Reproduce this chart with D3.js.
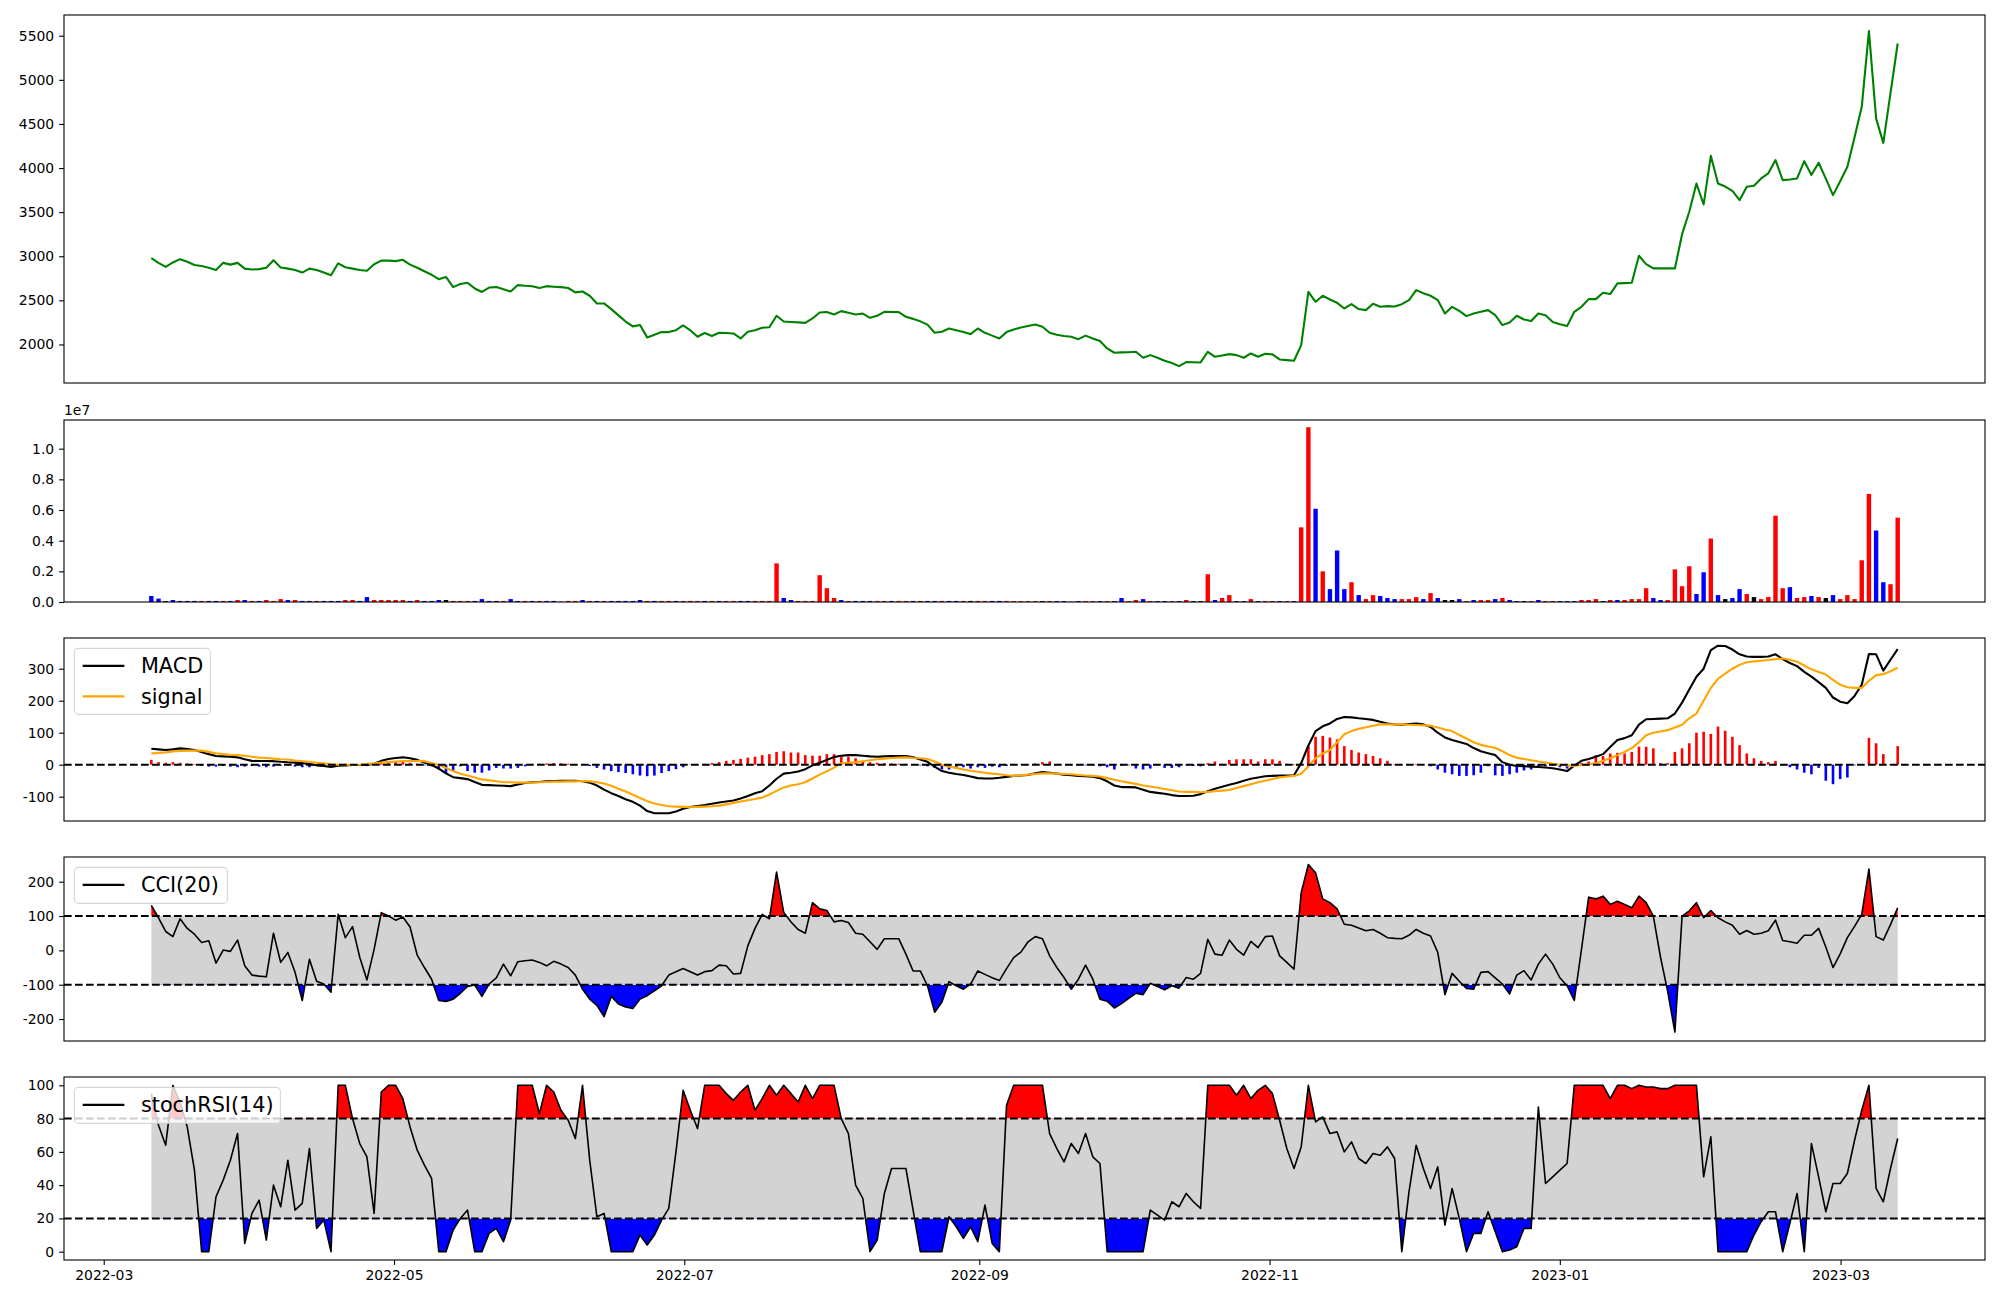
<!DOCTYPE html>
<html><head><meta charset="utf-8">
<script src="https://cdn.jsdelivr.net/npm/d3@7"></script>
<style>body{margin:0;background:#fff}svg{display:block}text{font-family:"DejaVu Sans",sans-serif}</style>
</head><body><svg id="c" width="2000" height="1300"></svg>
<script>
// ---- data (one value per trading session, 2022-03-11 .. 2023-03-13) ----
const firstSession = "2022-03-11", lastSession = "2023-03-13";
const dateTicks = ["2022-03","2022-05","2022-07","2022-09","2022-11","2023-01","2023-03"];
const price = [
2979,2925,2880,2930,2967,2937,2900,2890,2869,2845,
2925,2905,2925,2860,2850,2854,2870,2955,2872,2860,
2845,2815,2860,2845,2815,2785,2920,2875,2860,2845,
2835,2910,2950,2950,2945,2960,2905,2870,2830,2790,
2740,2765,2650,2685,2700,2635,2595,2645,2650,2625,
2600,2673,2665,2660,2640,2661,2655,2650,2640,2590,
2600,2552,2465,2465,2400,2330,2260,2205,2220,2080,
2110,2140,2140,2162,2215,2160,2087,2130,2095,2132,
2130,2125,2068,2144,2160,2190,2195,2325,2260,2255,
2250,2245,2295,2363,2368,2340,2378,2360,2340,2350,
2302,2325,2370,2368,2367,2314,2290,2262,2225,2132,
2144,2181,2160,2140,2117,2181,2132,2100,2068,2140,
2170,2193,2210,2227,2200,2132,2110,2095,2087,2060,
2100,2068,2038,1955,1906,1910,1912,1917,1849,1879,
1849,1815,1790,1754,1800,1798,1796,1917,1860,1875,
1890,1879,1849,1898,1860,1894,1887,1830,1822,1815,
1992,2597,2484,2552,2510,2472,2408,2457,2401,2389,
2461,2427,2435,2430,2457,2503,2616,2580,2552,2503,
2351,2427,2380,2321,2351,2370,2389,2333,2219,2249,
2325,2283,2265,2351,2330,2255,2230,2208,2370,2427,
2514,2514,2586,2571,2692,2695,2699,3005,2911,2862,
2862,2862,2862,3250,3504,3825,3587,4139,3825,3790,
3740,3636,3787,3800,3882,3940,4090,3863,3870,3882,
4078,3920,4060,3880,3693,3850,4014,4350,4694,5552,
4560,4285,4850,5412];
const volume = [
390000,220000,60000,130000,70000,70000,70000,70000,70000,70000,
70000,70000,130000,130000,70000,70000,130000,70000,190000,130000,
130000,70000,70000,70000,70000,70000,70000,130000,130000,70000,
320000,130000,130000,130000,130000,130000,70000,130000,70000,70000,
130000,130000,70000,70000,70000,70000,190000,70000,70000,70000,
190000,70000,70000,70000,70000,70000,70000,20000,70000,70000,
130000,70000,70000,70000,70000,70000,70000,70000,130000,70000,
70000,70000,70000,70000,70000,70000,70000,70000,70000,70000,
70000,70000,70000,70000,70000,70000,70000,2520000,260000,130000,
70000,70000,70000,1750000,900000,260000,130000,70000,70000,70000,
70000,70000,70000,70000,70000,70000,70000,70000,70000,70000,
70000,70000,70000,70000,70000,70000,70000,70000,70000,70000,
60000,60000,60000,60000,60000,60000,60000,60000,20000,60000,
60000,60000,60000,60000,60000,260000,60000,130000,190000,60000,
60000,60000,60000,60000,130000,60000,60000,1810000,130000,260000,
450000,60000,60000,190000,60000,60000,60000,60000,60000,60000,
4870000,11400000,6080000,2000000,840000,3360000,840000,1290000,450000,190000,
450000,390000,260000,190000,190000,190000,320000,190000,580000,260000,
130000,130000,190000,60000,130000,130000,130000,190000,260000,130000,
60000,60000,60000,130000,60000,60000,60000,60000,60000,130000,
130000,190000,60000,130000,130000,130000,190000,190000,900000,260000,
130000,130000,2130000,1030000,2330000,520000,1940000,4140000,450000,190000,
260000,840000,520000,320000,190000,320000,5630000,900000,970000,260000,
320000,390000,320000,260000,450000,190000,450000,190000,2720000,7050000,
4660000,1290000,1160000,5500000];
// r = up session, b = down session, k = unchanged
const volumeDir =
"bbkbbbbrbb"+"rbrbrbrrrb"+"rbbrbbbrrb"+"brrrrrbrbb"+"bkrrrbbbkr"+
"bbrbrbbbrr"+"brbrbbbbbr"+"brrbrrrbrb"+"rrbbrrrrbb"+"rrrrrrbrbb"+
"brrbrrbrbb"+"rbbrkrrbbr"+"rrrrkrbbbb"+"rrbrbbrrbr"+"bbrbrkkrbr"+
"rbbrbrrbrb"+"rrbrbbbrbr"+"rbbbrrrbrb"+"kkbrbrrbrb"+"bkrbrrbbbr"+
"rrkrbrrrrb"+"brrrrbbrbk"+"bbrkrrrrbr"+"rbrkbrrrrr"+"bbrr";
const macd = [
50,48,46,48,51,49,46,40,33,27,
26,25,23,17,12,11.5,11.5,11,9,7.5,
6.5,5,2,-2,-4,-7,-3,-2,-1,-1,
-1,3,12,18,21,23,20,15,7,-1,
-12,-27,-39,-42,-45,-54,-63,-64,-65,-66,
-67,-62,-57,-55,-54,-52,-51,-50,-50,-50,
-52,-56,-65,-78,-89,-98,-108,-116,-128,-145,
-152,-152,-152,-146,-138,-132,-129,-126,-122,-118,
-115,-112,-106,-98,-89,-83,-65,-44,-28,-25,
-21,-14,-2,6,15,24,28,30,30,28,
26,25,26,27,27,27,23,16,9,-6,
-20,-25,-29,-32,-37,-42,-43,-43,-41,-38,
-35,-34,-32,-27,-23,-25,-28,-31,-33,-35,
-36,-37.5,-42,-52,-65,-70,-70,-71,-78,-85,
-88,-91,-95,-98,-98,-97,-92,-83,-75,-69,
-63,-57,-50,-44,-40,-36,-35,-34,-34,-33,
5,60,105,120,129,143,149,148,145,143,
140,134,129,126,125,127,129,126,118,100,
85,77,71,65,52,42,36,30,8,0,
-4,-5,-6,-7,-9,-11,-15,-20,-3,12,
18,25,33,55,77,83,92,125,142,143,
144,145,160,194,235,275,300,358,372,371,
360,345,338,337,337,338,345,330,318,308,
290,275,258,240,210,197,192,215,250,346,
345,294,328,361];
const signal = [
35,37,38.5,41,43,44,44,44,40,36,
33,31,30,28,25,22,21,19,17,16,
13,11,9,6,4,1,0,0,-1,0,
2,4,6,8,10,11,11.5,11.5,11,5,
-1,-10,-20,-28,-34,-40,-46,-49,-52,-55,
-55,-56,-56,-56,-55,-54,-53,-53,-52,-52,
-51,-52,-55,-59,-66,-75,-84,-94,-104,-114,
-121,-126,-130,-131,-132,-133,-132,-131,-130,-128,
-124,-120,-115,-111,-107,-103,-93,-82,-71,-65,
-61,-55,-43,-31,-21,-9,4,6,8,11,
14,17,19,21,22,23,21,20,18,10,
0,-6,-10,-15,-19,-22,-25,-28,-30,-33,
-35,-33,-31,-29,-27,-27,-28,-29,-30,-32,
-34,-35,-37,-42,-47,-52,-56,-60,-65,-68,
-72,-76,-80,-84,-85,-85,-86,-85,-83,-81,
-79,-73,-67,-61,-55,-50,-45,-40,-37,-35,
-28,-5,20,35,46,70,95,105,112,117,
122,126,126,126,126,125,124,123,122,116,
110,105,93,82,70,62,57,53,42,30,
22,18,14,10,7,3,0,-2,-4,-1,
1,4,12,20,30,40,52,70,92,100,
104,108,116,125,145,160,200,240,268,285,
300,312,320,323,325,327,330,332,328,322,
310,298,290,282,265,250,242,240,240,262,
280,283,292,303];
const histogram = [
15,8,6,8,6,4,2,-4,-6,-6,
-4,-6,-8,-6,-4,-6,-8,-6,-3,-2,
-6,-8,-8,-3,-2,-2,-1,0,1,-1,
-2,2,6,8,10,10,6,3,-2,-5,
-15,-27,-20,-5,-20,-25,-25,-18,-10,-12,
-12,-10,-5,1,3,4,5,4,3,2,
-1,-4,-10,-15,-20,-23,-26,-30,-34,-36,
-34,-26,-20,-14,-8,1,2,3,5,8,
12,15,18,22,25,30,33,40,42,38,
38,30,28,28,33,33,30,25,20,12,
8,6,5,4,3,2,1,-2,-5,-10,
-15,-15,-10,-8,-12,-8,-10,-6,-8,-4,
0,-1,1,4,8,10,2,0,-2,-2,
-2,-2,-5,-8,-15,-3,-2,-12,-15,-12,
-2,-10,-10,-8,-2,-4,-5,5,10,3,
15,17,17,17,10,17,17,12,3,2,
5,58,87,90,85,79,58,46,38,33,
27,20,12,2,0,0,2,0,-5,-15,
-25,-30,-35,-35,-33,-25,-5,-33,-35,-30,
-25,-18,-15,-10,-5,-3,-8,-12,0,5,
10,30,27,35,37,35,40,56,56,51,
5,5,40,51,67,100,103,96,119,106,
87,61,35,20,12,8,12,-2,-8,-15,
-25,-30,-10,-50,-61,-45,-40,-2,0,84,
67,33,2,58];
const cci = [
131,95,55,40,92,64,47,23,28,-37,
1,-3,30,-45,-72,-75,-77,50,-35,-6,
-64,-146,-26,-90,-98,-122,105,37,69,-20,
-86,3,110,100,88,97,68,-14,-50,-84,
-146,-149,-142,-125,-105,-101,-134,-98,-80,-40,
-74,-33,-30,-28,-35,-45,-32,-40,-50,-72,
-113,-142,-160,-193,-134,-156,-165,-169,-142,-132,
-118,-103,-72,-62,-53,-62,-72,-62,-59,-43,
-45,-69,-67,13,64,105,92,228,110,83,
61,50,139,121,116,83,87,81,50,47,
25,3,34,34,34,-11,-60,-60,-103,-180,
-151,-91,-103,-113,-98,-60,-70,-80,-88,-53,
-21,-5,25,40,34,-16,-50,-79,-113,-84,
-43,-84,-142,-148,-168,-155,-140,-125,-129,-96,
-105,-115,-103,-110,-79,-84,-67,32,-11,-14,
30,3,-14,26,8,40,42,-16,-35,-55,
168,250,226,150,139,121,76,73,65,57,
61,50,37,35,34,44,61,50,42,-6,
-129,-67,-90,-111,-113,-64,-62,-80,-98,-127,
-72,-59,-86,-40,-11,-40,-80,-103,-146,3,
155,150,158,134,143,134,124,158,139,100,
-20,-120,-238,100,115,139,95,116,95,83,
73,47,58,47,50,57,88,29,25,21,
44,44,64,10,-50,-10,37,70,105,237,
40,30,75,124];
const stochRsi = [
95,76,64,100,90,75,49,0,0,33,
43,55,71,5,23,31,7,40,27,55,
25,29,62,14,19,0,100,100,80,65,
57,23,96,100,100,92,75,61,52,44,
0,0,13,20,25,0,0,11,14,6,
19,100,100,100,83,100,96,85,79,68,
100,55,21,23,0,0,0,0,10,4,
10,19,26,60,97,85,74,100,100,100,
95,91,96,100,85,92,100,94,100,95,
90,100,92,100,100,100,80,71,40,32,
0,7,35,50,50,50,25,0,0,0,
0,21,15,8,15,6,28,5,0,88,
100,100,100,100,100,71,62,54,65,59,
71,57,53,0,0,0,0,0,0,25,
22,19,30,27,35,30,26,100,100,100,
100,94,100,92,97,100,95,79,62,50,
63,100,78,81,71,72,60,66,56,53,
59,58,63,56,0,36,64,50,38,51,
16,38,20,0,11,11,24,12,0,1,
3,14,14,87,41,45,49,53,100,100,
100,100,100,92,100,100,98,100,99,99,
98,98,100,100,100,100,45,69,0,0,
0,0,0,10,18,24,24,0,17,35,
0,65,45,24,41,41,47,67,85,100,
38,30,50,68];

// ---- layout ----
const L = 64, R = 1985;
const FONT = 13.9, LEGFONT = 20.8;
const svg = d3.select("#c");
svg.append("rect").attr("width",2000).attr("height",1300).attr("fill","#fff");
const defs = svg.append("defs");
const n = price.length;
const x = d3.scaleLinear().domain([-0.05*(n-1), (n-1)*1.05]).range([L, R]);
const idx = d3.range(n);
const parse = d3.timeParse("%Y-%m-%d");
const t0 = parse(firstSession), tN = parse(lastSession), span = tN - t0;
const xt = d3.scaleTime().domain([new Date(+t0 - 0.05*span), new Date(+tN + 0.05*span)]).range([L, R]);
const colorOf = {r:"#ff0000", b:"#0000ff", k:"#000000"};

function panel(id, top, bottom, domain, ticks, fmt){
  const y = d3.scaleLinear().domain(domain).range([bottom, top]);
  defs.append("clipPath").attr("id","clip-"+id).append("rect")
    .attr("x",L).attr("y",top).attr("width",R-L).attr("height",bottom-top);
  const g = svg.append("g");
  const plot = g.append("g").attr("clip-path",`url(#clip-${id})`);
  const ax = g.append("g").attr("transform",`translate(${L},0)`)
    .call(d3.axisLeft(y).tickValues(ticks).tickFormat(fmt).tickSize(4.9).tickPadding(4.9));
  ax.select(".domain").remove();
  ax.selectAll("text").attr("font-size",FONT).attr("font-family","DejaVu Sans").attr("fill","#000");
  ax.selectAll("line").attr("stroke","#000").attr("stroke-width",1.1);
  return {g, plot, y, top, bottom, frame(){ g.append("rect").attr("x",L).attr("y",top).attr("width",R-L).attr("height",bottom-top).attr("fill","none").attr("stroke","#000").attr("stroke-width",1.1); }};
}
function dashed(p, v){
  p.plot.append("line").attr("x1",L).attr("x2",R).attr("y1",p.y(v)).attr("y2",p.y(v))
    .attr("stroke","#000").attr("stroke-width",2).attr("stroke-dasharray","7.7,3.3");
}
function legend(p, h, items, w){
  const bx = L + 10.4, by = p.top + 10.4;
  const lg = p.g.append("g");
  lg.append("rect").attr("x",bx).attr("y",by).attr("width",w).attr("height",h).attr("rx",4)
    .attr("fill","#fff").attr("fill-opacity",0.8).attr("stroke","#cccccc").attr("stroke-opacity",0.8).attr("stroke-width",1.1);
  items.forEach((it, k) => {
    const cy = by + 17.5 + k*30.5;
    lg.append("line").attr("x1",bx+8.3).attr("x2",bx+50).attr("y1",cy).attr("y2",cy).attr("stroke",it.color).attr("stroke-width",it.w||2.1);
    lg.append("text").attr("x",bx+66.5).attr("y",cy+7.5).attr("font-size",LEGFONT).attr("fill","#000").text(it.label);
  });
}
function bandPanel(p, data, lo, hi){
  const area = d3.area().x((d,i)=>x(i));
  p.plot.append("path").datum(data).attr("fill","#d3d3d3").attr("d", area.y0(p.y(lo)).y1(p.y(hi)));
  const up = "up-"+lo, dn = "dn-"+lo;
  defs.append("clipPath").attr("id",up).append("rect").attr("x",L).attr("y",p.top).attr("width",R-L).attr("height",p.y(hi)-p.top);
  defs.append("clipPath").attr("id",dn).append("rect").attr("x",L).attr("y",p.y(lo)).attr("width",R-L).attr("height",p.bottom-p.y(lo));
  p.plot.append("g").attr("clip-path",`url(#${up})`).append("path").datum(data).attr("fill","#ff0000")
    .attr("d", d3.area().x((d,i)=>x(i)).y0(p.y(hi)).y1(d=>p.y(d)));
  p.plot.append("g").attr("clip-path",`url(#${dn})`).append("path").datum(data).attr("fill","#0000ff")
    .attr("d", d3.area().x((d,i)=>x(i)).y0(p.y(lo)).y1(d=>p.y(d)));
  dashed(p, hi); dashed(p, lo);
  p.plot.append("path").datum(data).attr("fill","none").attr("stroke","#000").attr("stroke-width",1.6)
    .attr("stroke-linejoin","round").attr("d", d3.line().x((d,i)=>x(i)).y(d=>p.y(d)));
}

// Panel 1: price
const p1 = panel("p1", 15, 383, [1563, 5735], d3.range(2000, 5501, 500), d=>d);
p1.plot.append("path").datum(price).attr("fill","none").attr("stroke","#008000").attr("stroke-width",2.1)
  .attr("stroke-linejoin","round").attr("d", d3.line().x((d,i)=>x(i)).y(d=>p1.y(d)));
p1.frame();

// Panel 2: volume
const p2 = panel("p2", 420, 602, [0, 1.187e7], d3.range(0, 6).map(k=>k*2e6), d=>(d/1e7).toFixed(1));
const bw2 = 4.4;
p2.plot.selectAll("rect.v").data(volume).join("rect")
  .attr("x",(d,i)=>x(i)-bw2/2).attr("width",bw2)
  .attr("y",d=>p2.y(d)).attr("height",d=>p2.y(0)-p2.y(d))
  .attr("fill",(d,i)=>colorOf[volumeDir[i]]);
p2.frame();
p2.g.append("text").attr("x",L).attr("y",415).attr("font-size",FONT).attr("fill","#000").text("1e7");

// Panel 3: MACD
const p3 = panel("p3", 638, 821, [-176, 396], [-100,0,100,200,300], d=>d);
const bw3 = 2.6;
p3.plot.selectAll("rect.h").data(histogram).join("rect")
  .attr("x",(d,i)=>x(i)-bw3/2).attr("width",bw3)
  .attr("y",d=>p3.y(Math.max(0,d))).attr("height",d=>Math.abs(p3.y(d)-p3.y(0)))
  .attr("fill",d=>d>=0?"#ff0000":"#0000ff");
p3.plot.append("path").datum(macd).attr("fill","none").attr("stroke","#000").attr("stroke-width",2.1)
  .attr("stroke-linejoin","round").attr("d", d3.line().x((d,i)=>x(i)).y(d=>p3.y(d)));
p3.plot.append("path").datum(signal).attr("fill","none").attr("stroke","#ffa500").attr("stroke-width",2.1)
  .attr("stroke-linejoin","round").attr("d", d3.line().x((d,i)=>x(i)).y(d=>p3.y(d)));
dashed(p3, 0);
p3.frame();
legend(p3, 66, [{label:"MACD",color:"#000"},{label:"signal",color:"#ffa500"}], 136);

// Panel 4: CCI
const p4 = panel("p4", 857, 1041, [-264, 272], [-200,-100,0,100,200], d=>d);
bandPanel(p4, cci, -100, 100);
p4.frame();
legend(p4, 36, [{label:"CCI(20)",color:"#000"}], 153);

// Panel 5: stochRSI
const p5 = panel("p5", 1077, 1260, [-5, 105], [0,20,40,60,80,100], d=>d);
bandPanel(p5, stochRsi, 20, 80);
p5.frame();
legend(p5, 36, [{label:"stochRSI(14)",color:"#000"}], 206);

// bottom date axis
const xa = svg.append("g").attr("transform","translate(0,1260)")
  .call(d3.axisBottom(xt).tickValues(dateTicks.map(s=>d3.timeParse("%Y-%m")(s))).tickFormat(d3.timeFormat("%Y-%m")).tickSize(4.9).tickPadding(4.9));
xa.select(".domain").remove();
xa.selectAll("text").attr("font-size",FONT).attr("font-family","DejaVu Sans").attr("fill","#000");
xa.selectAll("line").attr("stroke","#000").attr("stroke-width",1.1);
</script>
</body></html>
